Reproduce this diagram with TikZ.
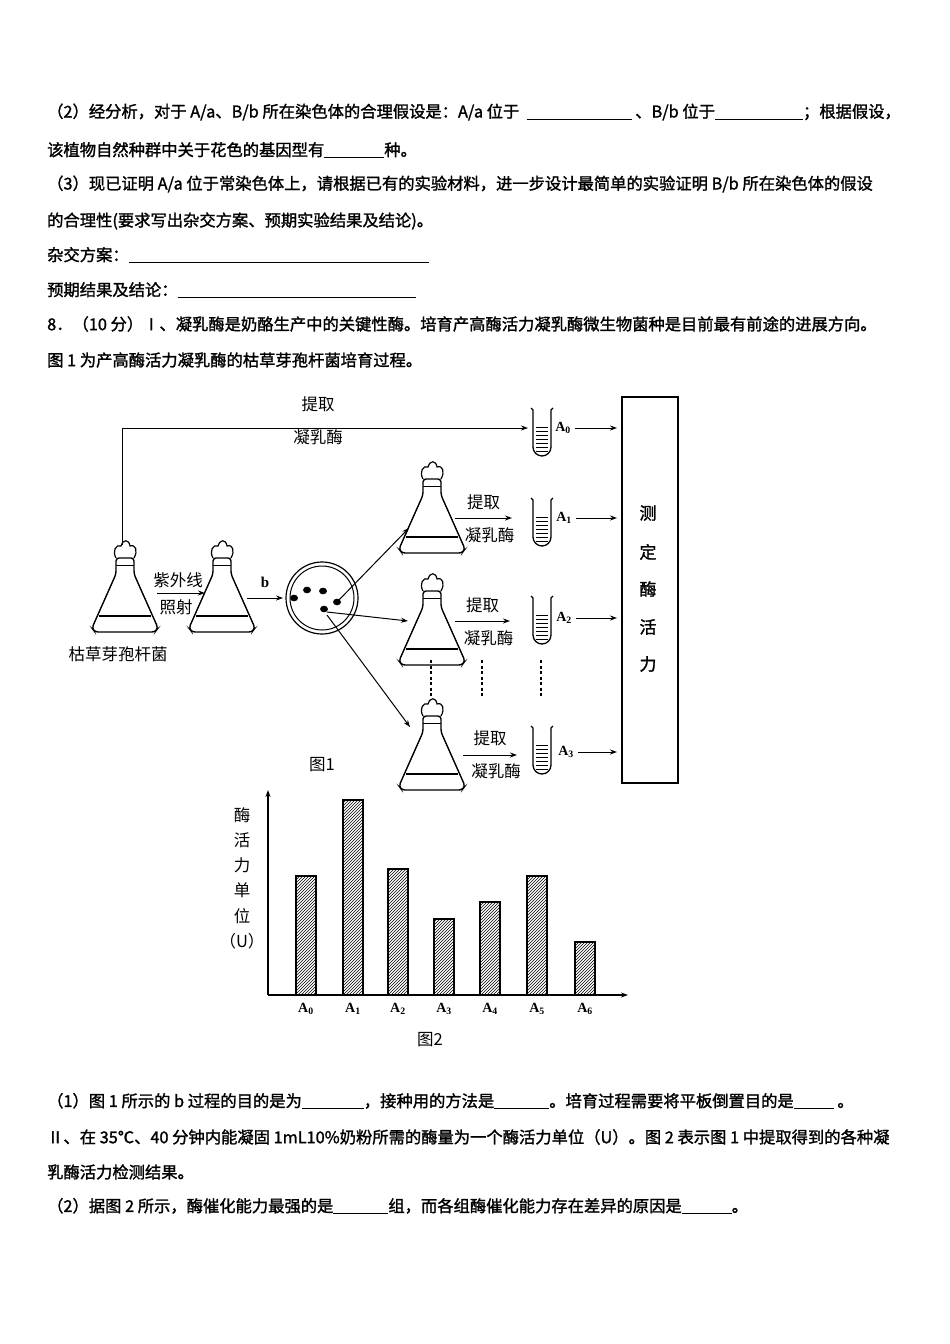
\documentclass[tikz,border=0pt]{standalone}
\usepackage{fontspec}
\newfontfamily\cjk[AutoFakeBold=1.5]{Noto Sans CJK SC}
\setmainfont{Liberation Serif}
\usetikzlibrary{arrows.meta,patterns}
\tikzset{
 every node/.style={font=\cjk\bfseries\fontsize{16.3}{18}\selectfont, inner sep=0pt},
 tline/.style={anchor=west},
 arr/.style={-{Stealth[length=7pt,width=5pt]}, line width=1pt},
 lbl/.style={font=\cjk\fontsize{16.5}{18}\selectfont},
 alab/.style={font=\bfseries\fontsize{14}{15}\selectfont},
 flask/.pic={
   \draw[line width=1.4pt, rounded corners=3pt] (-9,-58) -- (-33,-4) -- (-30,0) -- (30,0) -- (33,-4) -- (9,-58) -- (9,-74) -- (-9,-74) -- cycle;
   \draw[line width=1.2pt] (-26,-16) -- (26,-16);
   \draw[line width=1.2pt] (-9,-74) .. controls (-13,-81) and (-9,-88) .. (-4,-86) .. controls (-2,-93) and (4,-93) .. (5,-86) .. controls (11,-88) and (13,-81) .. (9,-74);
   \draw[line width=1pt] (-9,-67) -- (9,-67);
 },
 ttube/.pic={
   \draw[line width=1.3pt] (-11,-48) -- (-9,-46) -- (-9,-9) arc[start angle=180,end angle=0,radius=9] -- (9,-46) -- (11,-48);
   \foreach \k in {0,...,6}{\draw[line width=1pt] (-6,{-29+\k*4}) -- (6,{-29+\k*4});}
 },
 dline/.style={line width=1.2pt, dash pattern=on 3pt off 2.5pt},
 bar/.style={draw, line width=1.1pt, pattern=north east lines}
}
\begin{document}
\begin{tikzpicture}[x=1pt,y=-1pt]
\useasboundingbox (0,0) rectangle (950,1344);
\node[tline] (t1) at (47,112) {（2）经分析，对于 A/a、B/b 所在染色体的合理假设是：A/a 位于\ \ \rule[-2pt]{105pt}{0.6pt}\ 、B/b 位于\rule[-2pt]{88pt}{0.6pt}；根据假设，};
\node[tline] (t2) at (47,150) {该植物自然种群中关于花色的基因型有\rule[-2pt]{60pt}{0.6pt}种。};
\node[tline] (t3) at (47,184) {（3）现已证明 A/a 位于常染色体上，请根据已有的实验材料，进一步设计最简单的实验证明 B/b 所在染色体的假设};
\node[tline] (t4) at (47,221) {的合理性(要求写出杂交方案、预期实验结果及结论)。};
\node[tline] (t5) at (47,255) {杂交方案：\rule[-2pt]{300pt}{0.6pt}};
\node[tline] (t6) at (47,290) {预期结果及结论：\rule[-2pt]{238pt}{0.6pt}};
\node[tline] (t7) at (47,324) {8．（10 分）Ⅰ、凝乳酶是奶酪生产中的关键性酶。培育产高酶活力凝乳酶微生物菌种是目前最有前途的进展方向。};
\node[tline] (t8) at (47,360) {图 1 为产高酶活力凝乳酶的枯草芽孢杆菌培育过程。};
% figure 1
\pic at (125,632) {flask};
\pic at (222,632) {flask};
\pic at (432,553) {flask};
\pic at (432,665) {flask};
\pic at (432,790) {flask};
\node[lbl] (f1l) at (118,654) {枯草芽孢杆菌};
\coordinate (f1top) at (122,545);
\coordinate (topc) at (122,428);
\pic at (542,456) {ttube};
\pic at (542,546) {ttube};
\pic at (542,644) {ttube};
\pic at (542,774) {ttube};
\draw[arr] (f1top) -- (topc) -- (528,428);
\node[lbl] (tq0) at (318,404) {提取};
\node[lbl] (ny0) at (318,437) {凝乳酶};
\node[lbl] (uv1) at (178,580) {紫外线};
\node[lbl] (uv2) at (176,607) {照射};
\draw[arr] (157,593) -- (205,593);
\node[font=\bfseries\fontsize{15}{17}\selectfont] (b) at (265,582) {b};
\draw[arr] (247,598) -- (283,598);
\node[circle, draw, line width=1.2pt, minimum size=72pt] (dish) at (322,598) {};
\draw[line width=1pt] (dish.center) circle (32);
\foreach \p in {(307,590),(294,598),(323,591),(337,602),(324,609)}{\fill \p ellipse (4 and 3.3);}
\draw[arr] (337,602) -- (409,528);
\draw[arr] (327,612) -- (408,621);
\draw[arr] (327,615) -- (410,727);
\foreach \y/\ya/\yb/\xa/\xb in {518/502/535/455/512, 621/605/638/455/510, 755/738/771/463/517}{
  \draw[arr] (\xa,\y) -- (\xb,\y);
  \node[lbl] at ({(\xa+\xb)/2},\ya) {提取};
  \node[lbl] at ({(\xa+\xb)/2+6},\yb) {凝乳酶};
}
\node[alab] (a0) at (563,428) {A\textsubscript{0}};
\node[alab] (a1) at (564,518) {A\textsubscript{1}};
\node[alab] (a2) at (564,618) {A\textsubscript{2}};
\node[alab] (a3) at (566,752) {A\textsubscript{3}};
\node[draw, line width=1.3pt, minimum width=56pt, minimum height=386pt] (box) at (650,590) {};
\foreach \y/\n in {428/a0,518/a1,618/a2,752/a3}{\draw[arr] (\n.east) ++(4,0) -- (617,\y);}
\foreach \c/\t in {513/测,552/定,589/酶,627/活,664/力}{\node[font=\cjk\bfseries\fontsize{17}{19}\selectfont] at (648,\c) {\t};}
\foreach \x in {431,482,541}{\draw[dline] (\x,660) -- (\x,697);}
\node[lbl] (fig1) at (322,765) {图1};
% figure 2
\coordinate (o) at (268,995);
\draw[arr, line width=1.2pt] (o) -- (268,790);
\draw[arr, line width=1.2pt] (o) -- (628,995);
\foreach \x/\t/\i in {306/876/0,353/800/1,398/869/2,444/919/3,490/902/4,537/876/5,585/942/6}{
  \draw[bar] (\x-10,995) rectangle (\x+10,\t);
  \node[alab] at (\x,1009) {A\textsubscript{\i}};
}
\foreach \y/\t in {815/酶,840/活,865/力,890/单,916/位}{\node[lbl] at (242,\y) {\t};}
\node[lbl] (uu) at (242,941) {（U）};
\node[lbl] (fig2) at (430,1040) {图2};
% bottom text
\node[tline] (b1) at (47,1101) {（1）图 1 所示的 b 过程的目的是为\rule[-2pt]{62pt}{0.6pt}，接种用的方法是\rule[-2pt]{55pt}{0.6pt}。培育过程需要将平板倒置目的是\rule[-2pt]{40pt}{0.6pt} 。};
\node[tline] (b2) at (47,1137) {Ⅱ、在 35℃、40 分钟内能凝固 1mL10\%奶粉所需的酶量为一个酶活力单位（U）。图 2 表示图 1 中提取得到的各种凝};
\node[tline] (b3) at (47,1172) {乳酶活力检测结果。};
\node[tline] (b4) at (47,1206) {（2）据图 2 所示，酶催化能力最强的是\rule[-2pt]{55pt}{0.6pt}组，而各组酶催化能力存在差异的原因是\rule[-2pt]{50pt}{0.6pt}。};
\end{tikzpicture}
\end{document}
